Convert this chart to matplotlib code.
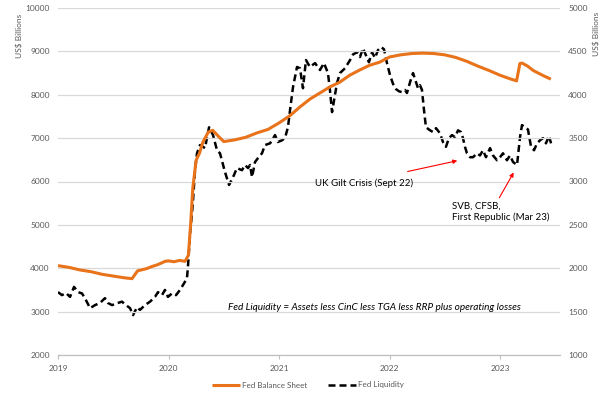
import matplotlib
matplotlib.use("Agg")
import matplotlib.pyplot as plt

plt.rcParams['font.family'] = ['Lato', 'DejaVu Sans']

# Fed Balance Sheet (left axis, US$ bn)
bs_year = [2019.00, 2019.10, 2019.20, 2019.30, 2019.40, 2019.50, 2019.60, 2019.67, 2019.72, 2019.80,
           2019.85, 2019.90, 2019.97, 2020.00, 2020.05, 2020.10, 2020.15, 2020.18, 2020.20, 2020.22,
           2020.25, 2020.28, 2020.31, 2020.36, 2020.40, 2020.46, 2020.50, 2020.55, 2020.60, 2020.70,
           2020.80, 2020.90, 2021.00, 2021.10, 2021.19, 2021.28, 2021.37, 2021.46, 2021.55, 2021.64,
           2021.73, 2021.82, 2021.91, 2022.00, 2022.10, 2022.20, 2022.30, 2022.40, 2022.50, 2022.60,
           2022.70, 2022.80, 2022.90, 2023.00, 2023.10, 2023.15, 2023.18, 2023.20, 2023.25, 2023.30,
           2023.40, 2023.46]
bs_value = [4060, 4020, 3960, 3920, 3860, 3820, 3780, 3760, 3940, 3990,
            4040, 4080, 4160, 4170, 4150, 4180, 4160, 4300, 5000, 5850,
            6490, 6650, 6900, 7140, 7180, 7020, 6920, 6940, 6960, 7020,
            7120, 7200, 7350, 7520, 7720, 7900, 8040, 8180, 8290, 8450,
            8570, 8680, 8750, 8870, 8920, 8950, 8960, 8950, 8920, 8860,
            8770, 8660, 8560, 8450, 8360, 8320, 8720, 8730, 8660, 8560,
            8430, 8360]

# Fed Liquidity (right axis, US$ bn)
liq_year = [2019.000, 2019.036, 2019.072, 2019.109, 2019.145, 2019.181, 2019.217, 2019.244, 2019.290, 2019.335,
            2019.380, 2019.425, 2019.452, 2019.489, 2019.543, 2019.579, 2019.615, 2019.652, 2019.679, 2019.715,
            2019.742, 2019.787, 2019.833, 2019.878, 2019.905, 2019.941, 2019.968, 2019.995, 2020.032, 2020.068,
            2020.104, 2020.140, 2020.167, 2020.176, 2020.186, 2020.195, 2020.213, 2020.222, 2020.240, 2020.258,
            2020.285, 2020.312, 2020.330, 2020.357, 2020.367, 2020.403, 2020.439, 2020.466, 2020.511, 2020.548,
            2020.584, 2020.620, 2020.665, 2020.692, 2020.720, 2020.738, 2020.756, 2020.783, 2020.810, 2020.846,
            2020.873, 2020.919, 2020.937, 2020.964, 2020.990, 2021.027, 2021.054, 2021.081, 2021.100, 2021.127,
            2021.163, 2021.190, 2021.217, 2021.244, 2021.280, 2021.326, 2021.371, 2021.407, 2021.443, 2021.461,
            2021.480, 2021.525, 2021.552, 2021.597, 2021.643, 2021.670, 2021.706, 2021.733, 2021.760, 2021.787,
            2021.814, 2021.842, 2021.869, 2021.896, 2021.923, 2021.950, 2021.977, 2022.005, 2022.032, 2022.059,
            2022.086, 2022.113, 2022.140, 2022.158, 2022.186, 2022.213, 2022.240, 2022.258, 2022.276, 2022.294,
            2022.312, 2022.330, 2022.367, 2022.394, 2022.421, 2022.457, 2022.484, 2022.511, 2022.538, 2022.566,
            2022.593, 2022.620, 2022.647, 2022.665, 2022.683, 2022.701, 2022.729, 2022.756, 2022.792, 2022.819,
            2022.846, 2022.873, 2022.910, 2022.937, 2022.973, 2023.000, 2023.027, 2023.063, 2023.090, 2023.118,
            2023.154, 2023.181, 2023.199, 2023.226, 2023.253, 2023.281, 2023.308, 2023.335, 2023.362, 2023.389,
            2023.416, 2023.443, 2023.462]
liq_value = [1725, 1690, 1715, 1670, 1785, 1725, 1710, 1655, 1540, 1575,
             1600, 1655, 1600, 1575, 1600, 1615, 1575, 1540, 1460, 1550,
             1520, 1575, 1615, 1670, 1725, 1690, 1750, 1670, 1710, 1690,
             1750, 1825, 1885, 2015, 2210, 2400, 2635, 2785, 3130, 3325,
             3420, 3400, 3385, 3560, 3625, 3535, 3360, 3325, 3110, 2960,
             3050, 3155, 3130, 3190, 3155, 3190, 3050, 3225, 3270, 3325,
             3420, 3440, 3475, 3535, 3455, 3475, 3500, 3625, 3825, 4090,
             4320, 4305, 4075, 4400, 4320, 4365, 4285, 4365, 4250, 4055,
             3800, 4135, 4250, 4305, 4400, 4465, 4490, 4435, 4535, 4455,
             4375, 4490, 4425, 4515, 4550, 4525, 4365, 4225, 4125, 4065,
             4040, 4030, 4055, 4020, 4145, 4250, 4145, 4075, 4110, 4055,
             3825, 3625, 3590, 3570, 3615, 3555, 3455, 3400, 3500, 3535,
             3510, 3590, 3570, 3500, 3400, 3325, 3280, 3280, 3325, 3300,
             3360, 3280, 3385, 3300, 3245, 3280, 3325, 3245, 3300, 3225,
             3190, 3510, 3650, 3625, 3600, 3400, 3360, 3440, 3475, 3500,
             3440, 3525, 3440]

year_ticks = [2019, 2020, 2021, 2022, 2023]
left_ticks = list(range(2000, 10001, 1000))
right_ticks = list(range(1000, 5001, 500))

series_names = ["Fed Balance Sheet", "Fed Liquidity"]
y_title = "US$ Billions"
formula_text = "Fed Liquidity = Assets less CinC less TGA less RRP plus operating losses"
note_uk = "UK Gilt Crisis (Sept 22)"
note_svb = "SVB, CFSB,\nFirst Republic (Mar 23)"

ORANGE = '#E8731A'
TICKC = '#595959'
GRIDC = '#D9D9D9'

fig = plt.figure(figsize=(6.02, 3.97), dpi=100)
ax = fig.add_axes([58/602, 1-355/397, (560-58)/602, (355-8)/397])
ax2 = ax.twinx()

ax.set_zorder(2)
ax.patch.set_visible(False)

l1, = ax.plot(bs_year, bs_value, color=ORANGE, lw=2.2, solid_capstyle='butt', label=series_names[0])
l2, = ax2.plot(liq_year, liq_value, color='black', lw=1.8, dashes=(2.8, 1.6), label=series_names[1])

ax.set_xlim(2019, 2019 + (560-58)/110.5)
ax.set_ylim(2000, 10000)
ax2.set_ylim(1000, 5000)
ax.set_yticks(left_ticks)
ax2.set_yticks(right_ticks)
ax.set_xticks(year_ticks)
ax.set_xticklabels([str(y) for y in year_ticks])

ax.grid(axis='y', color=GRIDC, lw=0.9)
ax.set_axisbelow(True)
for a in (ax, ax2):
    for s in ('top', 'left', 'right', 'bottom'):
        a.spines[s].set_visible(False)
ax.spines['bottom'].set_visible(True)
ax.spines['bottom'].set_color('#BFBFBF')
ax.spines['bottom'].set_linewidth(0.9)

ax.tick_params(axis='y', length=0, labelsize=6, labelcolor=TICKC, pad=6)
ax2.tick_params(axis='y', length=0, labelsize=6, labelcolor=TICKC, pad=6)
ax.tick_params(axis='x', length=3, color='#BFBFBF', labelsize=6, labelcolor=TICKC, pad=4)

fig.text(19/602, 1-36/397, y_title, rotation=90, ha='center', va='center', fontsize=6, color=TICKC)
fig.text(596/602, 1-34/397, y_title, rotation=90, ha='center', va='center', fontsize=6, color=TICKC)

ax.text(2020.538, 3106, formula_text, style='italic', fontsize=7.2, color='black', ha='left', va='center')
ax.annotate("", xy=(2022.638, 6493), xytext=(2022.140, 6217),
            arrowprops=dict(arrowstyle='-|>', color='#FF0000', lw=0.8, mutation_scale=6))
ax.text(2021.326, 5963, note_uk, fontsize=7, ha='left', va='center', color='black')
ax.annotate("", xy=(2023.136, 6263), xytext=(2022.982, 5571),
            arrowprops=dict(arrowstyle='-|>', color='#FF0000', lw=0.8, mutation_scale=6))
ax.text(2022.566, 5295, note_svb, fontsize=7, ha='left', va='center', color='black', linespacing=1.3)

fig.legend([l1, l2], series_names, loc='center', bbox_to_anchor=(308/602, 1-385/397), ncol=2,
           frameon=False, fontsize=5.8, handlelength=3.5, handletextpad=0.3, columnspacing=2.5,
           labelcolor=TICKC)

fig.savefig('out.png', dpi=100)
